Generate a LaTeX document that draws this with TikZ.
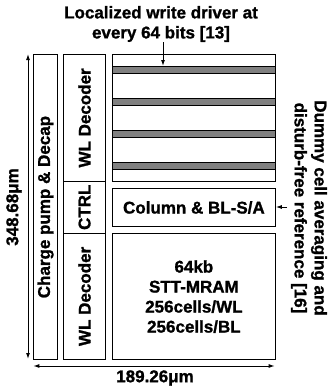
\documentclass[tikz,border=0pt]{standalone}
\usepackage{fontspec}
\setmainfont{Liberation Sans}
\newfontfamily\boldsans{Liberation Sans}[UprightFont={* Bold}, FakeBold=1.2]
\usetikzlibrary{arrows.meta}
\begin{document}
\begin{tikzpicture}[x=1pt,y=-1pt,
  box/.style={draw, line width=1.1pt, inner sep=0pt, anchor=north west},
  bar/.style={draw, line width=1pt, fill=black!50, inner sep=0pt, anchor=north west, minimum width=162.7pt, minimum height=6.5pt},
  lbl/.style={font=\boldsans\fontsize{17}{20}\selectfont, align=center, inner sep=0pt},
  arr/.style={-{Latex[length=6pt,width=4pt]}, line width=1pt},
  darr/.style={{Latex[length=6pt,width=4pt]}-{Latex[length=6pt,width=4pt]}, line width=1pt}]
\useasboundingbox (0,0) rectangle (330,391);
% boxes
\node[box, minimum width=23.4pt, minimum height=305pt] (cp) at (33.3,54) {};
\node[box, minimum width=41.4pt, minimum height=126.7pt] (wl1) at (63.3,54) {};
\node[box, minimum width=41.4pt, minimum height=52pt] (ctrl) at (63.3,180.7) {};
\node[box, minimum width=41.4pt, minimum height=126.3pt] (wl2) at (63.3,232.7) {};
\node[box, minimum width=162.7pt, minimum height=126.7pt] (arr1) at (112,54) {};
\node[box, minimum width=162.7pt, minimum height=37.4pt] (col) at (112,188.3) {};
\node[box, minimum width=162.7pt, minimum height=126.3pt] (arr2) at (112,232.7) {};
% bars
\node[bar] (b1) at (112,66) {};
\node[bar] (b2) at (112,98) {};
\node[bar] (b3) at (112,130) {};
\node[bar] (b4) at (112,162) {};
% labels in boxes
\node[lbl, rotate=90] at (cp.center) {Charge pump \& Decap};
\node[lbl, rotate=90] at (wl1.center) {WL Decoder};
\node[lbl, rotate=90] at (ctrl.center) {CTRL};
\node[lbl, rotate=90] at (wl2.center) {WL Decoder};
\node[lbl] at (col.center) {Column \& BL-S/A};
\node[lbl, text depth=0pt] at (arr2.center) {64kb\\STT-MRAM\\256cells/WL\\256cells/BL};
% top annotation
\node[lbl] (top) at (161,24) {Localized write driver at\\every 64 bits [13]};
\coordinate (tpa) at (163,42);
\draw[arr] (tpa) -- (tpa |- b1.north);
% right annotation
\node[lbl, rotate=-90] (dum) at (309,208) {Dummy cell averaging and\\disturb-free reference [16]};
\coordinate (dma) at (287,207);
\draw[arr] (dma) -- (col.east |- dma);
% dimensions
\coordinate (vt) at (28,54);
\coordinate (vb) at (28,359);
\draw[darr] (vt) -- (vb);
\node[lbl, rotate=90] (vdim) at (14,207) {348.68μm};
\coordinate (hl) at (33.3,366);
\coordinate (hr) at (274.7,366);
\draw[darr] (hl) -- (hr);
\node[lbl] (hdim) at (155,378) {189.26μm};
\end{tikzpicture}
\end{document}
